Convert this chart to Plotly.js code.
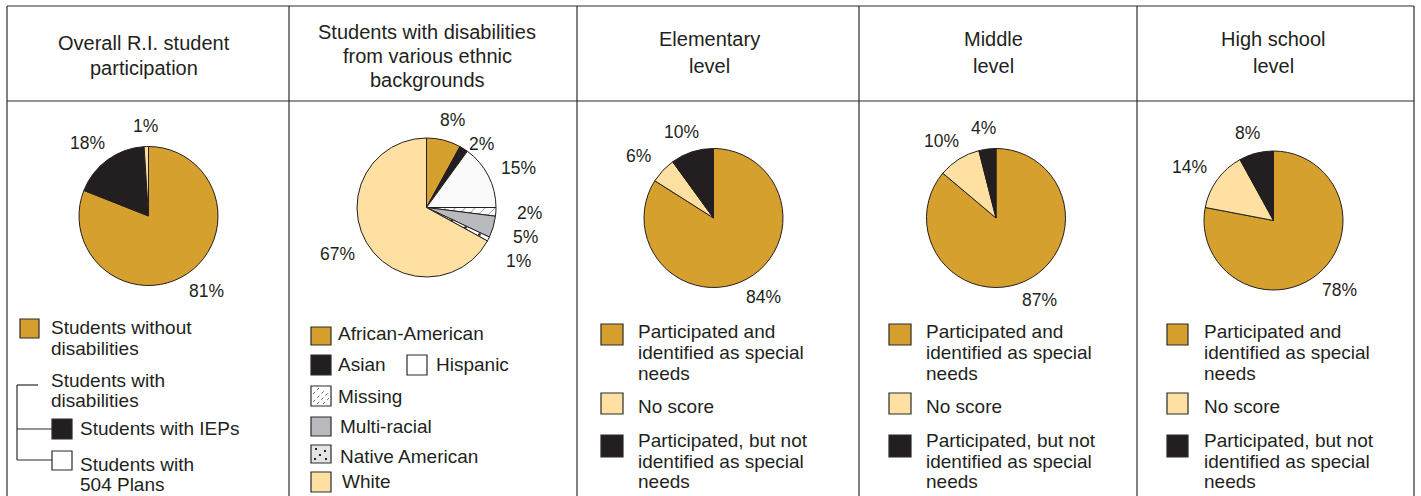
<!DOCTYPE html>
<html>
<head>
<meta charset="utf-8">
<script src="https://cdn.plot.ly/plotly-3.0.1.min.js"></script>
<style>html,body{margin:0;padding:0;background:#fff;}#chart{width:1421px;height:496px;}</style>
</head>
<body>
<div id="chart"></div>
<script>
// ---------- data ----------
const panelTitles = [
  ['Overall R.I. student', 'participation'],
  ['Students with disabilities', 'from various ethnic', 'backgrounds'],
  ['Elementary', 'level'],
  ['Middle', 'level'],
  ['High school', 'level']
];
const overallLabels = ['Students without disabilities', 'Students with IEPs', 'Students with 504 Plans'];
const overallValues = [81, 18, 1];
const ethnicLabels = ['African-American', 'Asian', 'Hispanic', 'Missing', 'Multi-racial', 'Native American', 'White'];
const ethnicValues = [8, 2, 15, 2, 5, 1, 67];
const levelLabels = ['Participated and identified as special needs', 'No score', 'Participated, but not identified as special needs'];
const elementaryValues = [84, 6, 10];
const middleValues = [87, 10, 4];
const highValues = [78, 14, 8];

// ---------- styling ----------
const W = 1421, H = 496;
const GOLD = '#d6a02f', CREAM = '#fde0a2', BLACK = '#231f20', WHITE = '#fafafa', GRAY = '#b9babd', NATIVE = '#e4e4e4';
const LINE = '#2a2a2a';
const FONT = 'Liberation Sans, Arial, Helvetica, sans-serif';
const X = p => p / W;
const Y = p => 1 - p / H;

const R = 69.5;
const pies = [
  {labels: overallLabels, values: overallValues, colors: [GOLD, BLACK, CREAM], c: [148.5, 216]},
  {labels: ethnicLabels, values: ethnicValues, colors: [GOLD, BLACK, WHITE, WHITE, GRAY, NATIVE, CREAM], c: [426.5, 207.5],
   pattern: {shape: ['', '', '', '/', '', '.', ''], fgcolor: ['#231f20', '#231f20', '#231f20', '#777777', '#231f20', '#231f20', '#231f20'], size: 7, solidity: 0.12}},
  {labels: levelLabels, values: elementaryValues, colors: [GOLD, CREAM, BLACK], c: [713.5, 218]},
  {labels: levelLabels, values: middleValues, colors: [GOLD, CREAM, BLACK], c: [996, 218]},
  {labels: levelLabels, values: highValues, colors: [GOLD, CREAM, BLACK], c: [1273.5, 220.5]}
];

const traces = [];
const annotations = [];
const shapes = [];

function text(x, baseline, t, size, anchor) {
  annotations.push({xref: 'paper', yref: 'paper', x: X(x), y: Y(baseline - 0.35 * size),
    xanchor: anchor || 'left', yanchor: 'middle', showarrow: false, text: t,
    font: {family: FONT, size: size, color: '#231f20'}, borderpad: 0});
}
function rect(x0, y0, x1, y1, fill) {
  shapes.push({type: 'rect', xref: 'paper', yref: 'paper', x0: X(x0), x1: X(x1), y0: Y(y1), y1: Y(y0),
    fillcolor: fill, line: {color: LINE, width: 1.2}});
}
function line(x0, y0, x1, y1, w, dash, col) {
  shapes.push({type: 'line', xref: 'paper', yref: 'paper', x0: X(x0), x1: X(x1), y0: Y(y0), y1: Y(y1),
    line: {color: col || LINE, width: w || 1.2, dash: dash || 'solid'}});
}

// pies
const MINGAP = 24;
pies.forEach(p => {
  const marker = {colors: p.colors, line: {color: BLACK, width: 1}};
  if (p.pattern) marker.pattern = p.pattern;
  traces.push({type: 'pie', labels: p.labels, values: p.values, sort: false, direction: 'clockwise', rotation: 0,
    textinfo: 'none', hoverinfo: 'label+percent', showlegend: false, marker: marker,
    domain: {x: [X(p.c[0] - R), X(p.c[0] + R)], y: [Y(p.c[1] + R), Y(p.c[1] - R)]}});
  // percentage labels at slice mid-angles
  const total = p.values.reduce((a, b) => a + b, 0);
  let cum = 0;
  const labs = p.values.map(v => {
    const th = 2 * Math.PI * (cum + v / 2) / total;
    cum += v;
    const s = Math.sin(th), co = Math.cos(th);
    return {v: v, s: s, x: p.c[0] + (R + 12) * s + 22 * s, y: p.c[1] - (R + 12) * co - 9 * co};
  });
  // spread crowded labels on the right-hand side downward
  const right = labs.filter(l => l.s > 0.1).sort((a, b) => a.y - b.y);
  for (let i = 1; i < right.length; i++) {
    if (right[i].y - right[i - 1].y < MINGAP) right[i].y = right[i - 1].y + MINGAP;
  }
  labs.forEach(l => annotations.push({xref: 'paper', yref: 'paper', x: X(l.x), y: Y(l.y), xanchor: 'center', yanchor: 'middle',
    showarrow: false, text: l.v + '%', font: {family: FONT, size: 17.5, color: '#231f20'}}));
});

// table grid
[7, 289, 577, 859, 1137, 1414].forEach(x => line(x, 6, x, 496));
line(7, 6, 1414, 6);
line(7, 101, 1414, 101);

// header titles
const titleX = [144, 427, 709, 993, 1273];
const titleBase = [[50, 74.5], [39, 63, 87], [46.5, 72.5], [46.5, 72.5], [46.5, 72.5]];
panelTitles.forEach((lines, i) => lines.forEach((t, j) => text(titleX[i], titleBase[i][j], t, 20, 'center')));

// legend: panel 1
const LS = 19;
rect(20, 319, 39, 338, GOLD);
text(50, 334, 'Students without', LS);
text(50, 355, 'disabilities', LS);
text(50, 387, 'Students with', LS);
text(50, 407, 'disabilities', LS);
line(17, 385, 38, 385); line(17, 385, 17, 460); line(17, 429, 52, 429); line(17, 460, 52, 460);
rect(52, 419, 72, 439, BLACK);
text(79, 435, 'Students with IEPs', LS);
rect(52, 451, 72, 470, '#ffffff');
text(79, 471, 'Students with', LS);
text(79, 491, '504 Plans', LS);

// legend: panel 2
rect(311, 327, 331, 345, GOLD); text(337, 340, ethnicLabels[0], LS);
rect(311, 355, 331, 375, BLACK); text(337, 371, ethnicLabels[1], LS);
rect(407, 355, 427, 375, '#ffffff'); text(435, 371, ethnicLabels[2], LS);
rect(311, 386, 331, 406, '#ffffff'); text(337, 403, ethnicLabels[3], LS);
[[313, 394, 319, 388], [313, 402, 325, 390], [317, 404, 329, 392], [323, 404, 329, 398]].forEach(s => line(s[0], s[1], s[2], s[3], 1, 'dot', '#666'));
rect(311, 417, 331, 436, GRAY); text(339, 433, ethnicLabels[4], LS);
rect(311, 445, 331, 463, NATIVE); text(339, 463, ethnicLabels[5], LS);
[[316, 449], [325, 451], [320, 455], [315, 459], [326, 459]].forEach(d => shapes.push({type: 'rect', xref: 'paper', yref: 'paper',
  x0: X(d[0] - 1), x1: X(d[0] + 1), y0: Y(d[1] + 1), y1: Y(d[1] - 1), fillcolor: BLACK, line: {width: 0}}));
rect(311, 472, 331, 492, CREAM); text(341, 488, ethnicLabels[6], LS);

// legend: panels 3-5
const levelLines = [['Participated and', 'identified as special', 'needs'], ['No score'], ['Participated, but not', 'identified as special', 'needs']];
const levelColors = [GOLD, CREAM, BLACK];
const levelRectY = [[324, 345], [393, 414], [435, 457]];
const levelBase = [[338.5, 359.5, 380], [413.5], [447.5, 468, 488.5]];
[[601, 623, 637], [889, 911, 925], [1167, 1188, 1203]].forEach(px => {
  levelLines.forEach((ls, k) => {
    rect(px[0], levelRectY[k][0], px[1], levelRectY[k][1], levelColors[k]);
    ls.forEach((t, j) => text(px[2], levelBase[k][j], t, LS));
  });
});

Plotly.newPlot('chart', traces, {
  width: W, height: H, margin: {l: 0, r: 0, t: 0, b: 0},
  paper_bgcolor: '#ffffff', plot_bgcolor: '#ffffff',
  showlegend: false, annotations: annotations, shapes: shapes,
  font: {family: FONT}
}, {displayModeBar: false, staticPlot: true});
</script>
</body>
</html>
